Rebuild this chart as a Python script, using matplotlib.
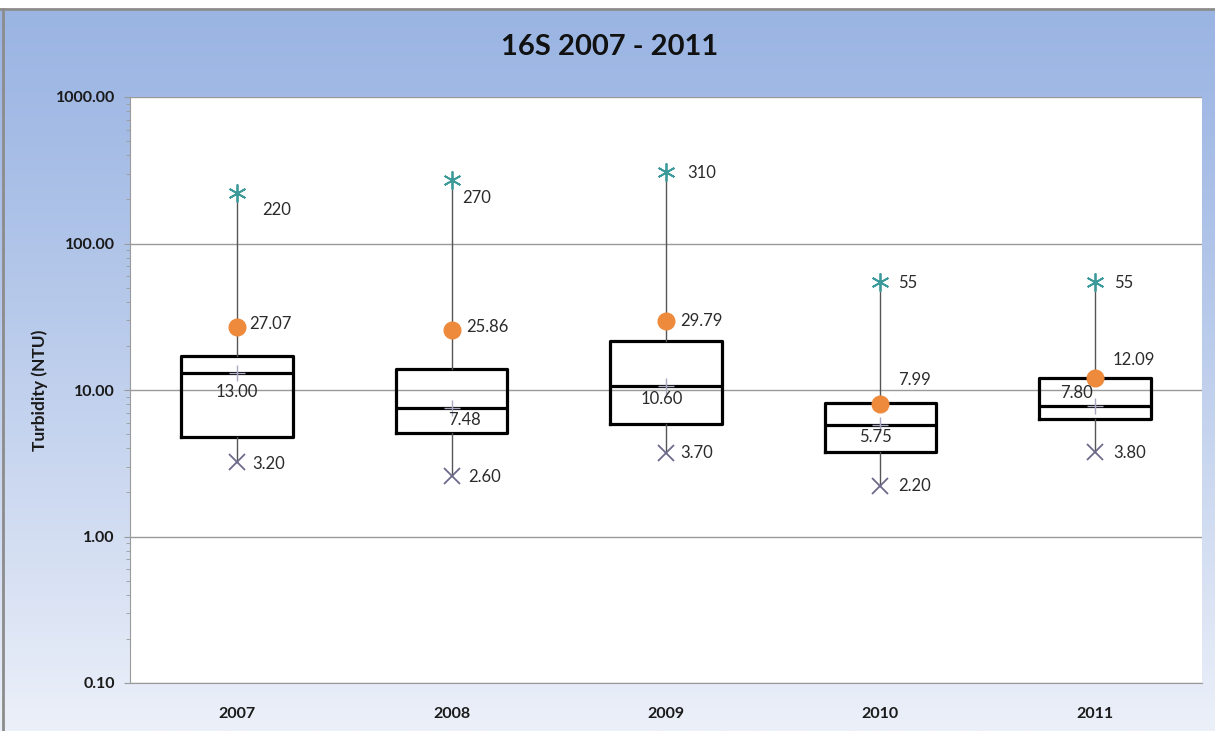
import numpy as np
import matplotlib.pyplot as plt
from matplotlib.ticker import FixedLocator, FuncFormatter, LogLocator, NullFormatter

plt.rcParams['font.family'] = ['Lato', 'DejaVu Sans']

years = ['2007', '2008', '2009', '2010', '2011']
mins = [3.20, 2.60, 3.70, 2.20, 3.80]
q1 = [4.78, 5.09, 5.86, 3.79, 6.31]
medians = [13.00, 7.48, 10.60, 5.75, 7.80]
q3 = [17.1, 13.9, 21.6, 8.19, 12.0]
maxs = [220, 270, 310, 55, 55]
means = [27.07, 25.86, 29.79, 7.99, 12.09]

max_txt = ['220', '270', '310', '55', '55']
min_txt = ['%.2f' % v for v in mins]
med_txt = ['%.2f' % v for v in medians]
mean_txt = ['%.2f' % v for v in means]

# label offsets in pixels (x, y up)
max_off = [(25, -17), (11, -18), (21, -1), (18, -1), (19, -1)]
mean_off = [(12, 3), (15, 3), (14, 0), (18, 24), (18, 18)]
med_off = [(0, -19), (13, -12), (-4, -13), (-5, -12), (-18, 13)]
min_off = [(15, -2), (17, -1), (14, 0), (18, 0), (18, -1)]

fig = plt.figure(figsize=(12.15, 7.31), dpi=100)

# gradient background
bg = fig.add_axes([0, 0, 1, 1], zorder=-5)
top = np.array([155, 181, 227]) / 255
bot = np.array([236, 240, 249]) / 255
t = np.linspace(0, 1, 300) ** 1.2
grad = top[None, :] * (1 - t[:, None]) + bot[None, :] * t[:, None]
bg.imshow(grad[:, None, :], aspect='auto', extent=[0, 1, 0, 1 - 9 / 731], origin='upper')
bg.fill_between([0, 1], 1 - 9 / 731, 1, color='white')
bg.plot([0, 1], [1 - 9 / 731, 1 - 9 / 731], color='#8c8c8c', lw=2)
bg.plot([3 / 1215, 3 / 1215], [0, 1 - 9 / 731], color='#8c8c8c', lw=2)
bg.set_xlim(0, 1)
bg.set_ylim(0, 1)
bg.axis('off')

ax = fig.add_axes([130 / 1215, 48 / 731, 1072 / 1215, 586 / 731])
ax.set_facecolor('white')

x = np.arange(len(years))
stats = []
for i in range(len(years)):
    stats.append(dict(med=medians[i], q1=q1[i], q3=q3[i], whislo=mins[i], whishi=maxs[i], fliers=[]))

ax.bxp(stats, positions=x, widths=0.52, showcaps=False, showfliers=False,
       boxprops=dict(color='black', lw=2.3),
       medianprops=dict(color='black', lw=2.3),
       whiskerprops=dict(color='#555555', lw=1.0))

ax.plot(x, maxs, ls='none', marker=(6, 2, 0), ms=13, mew=1.3, color='#3d9a9a', zorder=4)
ax.plot(x, mins, ls='none', marker='x', ms=11, mew=1.3, color='#6e6a8c', zorder=4)
ax.plot(x, means, ls='none', marker='o', ms=12, color='#ee8a3c', mec='#ee8a3c', zorder=5)
ax.plot(x, medians, ls='none', marker='+', ms=12, mew=1.0, color='#a8a8c0', zorder=5)

fs = 12
tc = '#2b2b2b'
for i in range(len(years)):
    ax.annotate(max_txt[i], (x[i], maxs[i]), xytext=max_off[i], textcoords='offset pixels',
                ha='left', va='center', fontsize=fs, color=tc)
    ax.annotate(mean_txt[i], (x[i], means[i]), xytext=mean_off[i], textcoords='offset pixels',
                ha='left', va='center', fontsize=fs, color=tc, zorder=6)
    ax.annotate(med_txt[i], (x[i], medians[i]), xytext=med_off[i], textcoords='offset pixels',
                ha='center', va='center', fontsize=fs, color=tc, zorder=6)
    ax.annotate(min_txt[i], (x[i], mins[i]), xytext=min_off[i], textcoords='offset pixels',
                ha='left', va='center', fontsize=fs, color=tc)

ax.set_yscale('log')
ax.set_ylim(0.1, 1000)
ax.set_xlim(-0.5, len(years) - 0.5)
ax.yaxis.set_major_locator(FixedLocator([0.1, 1, 10, 100, 1000]))
ax.yaxis.set_major_formatter(FuncFormatter(lambda v, p: '%.2f' % v))
ax.yaxis.set_minor_locator(LogLocator(base=10, subs=np.arange(2, 10)))
ax.yaxis.set_minor_formatter(NullFormatter())
ax.grid(axis='y', which='major', color='#9a9a9a', lw=1.0)
ax.set_axisbelow(True)

ax.set_xticks(x)
ax.set_xticklabels(years)
for lab in ax.get_xticklabels() + ax.get_yticklabels():
    lab.set_fontweight('bold')
    lab.set_fontsize(11.5)
    lab.set_color('#1a1a1a')
ax.tick_params(axis='x', length=0, pad=17)
ax.tick_params(axis='y', which='major', length=4, color='#9a9a9a', pad=7)
ax.tick_params(axis='y', which='minor', length=3, color='#9a9a9a')

for s in ['top', 'right']:
    ax.spines[s].set_visible(False)
ax.spines['left'].set_color('#9a9a9a')
ax.spines['bottom'].set_color('#9a9a9a')

fig.text(40 / 1215, 1 - 390 / 731, 'Turbidity (NTU)', rotation=90, ha='center', va='center',
         fontsize=12.5, fontweight='bold', color='#1a1a1a')
fig.text(610 / 1215, 1 - 47 / 731, '16S 2007 - 2011', ha='center', va='center',
         fontsize=21, fontweight='bold', color='#111111')

fig.savefig('out.png', dpi=100)
